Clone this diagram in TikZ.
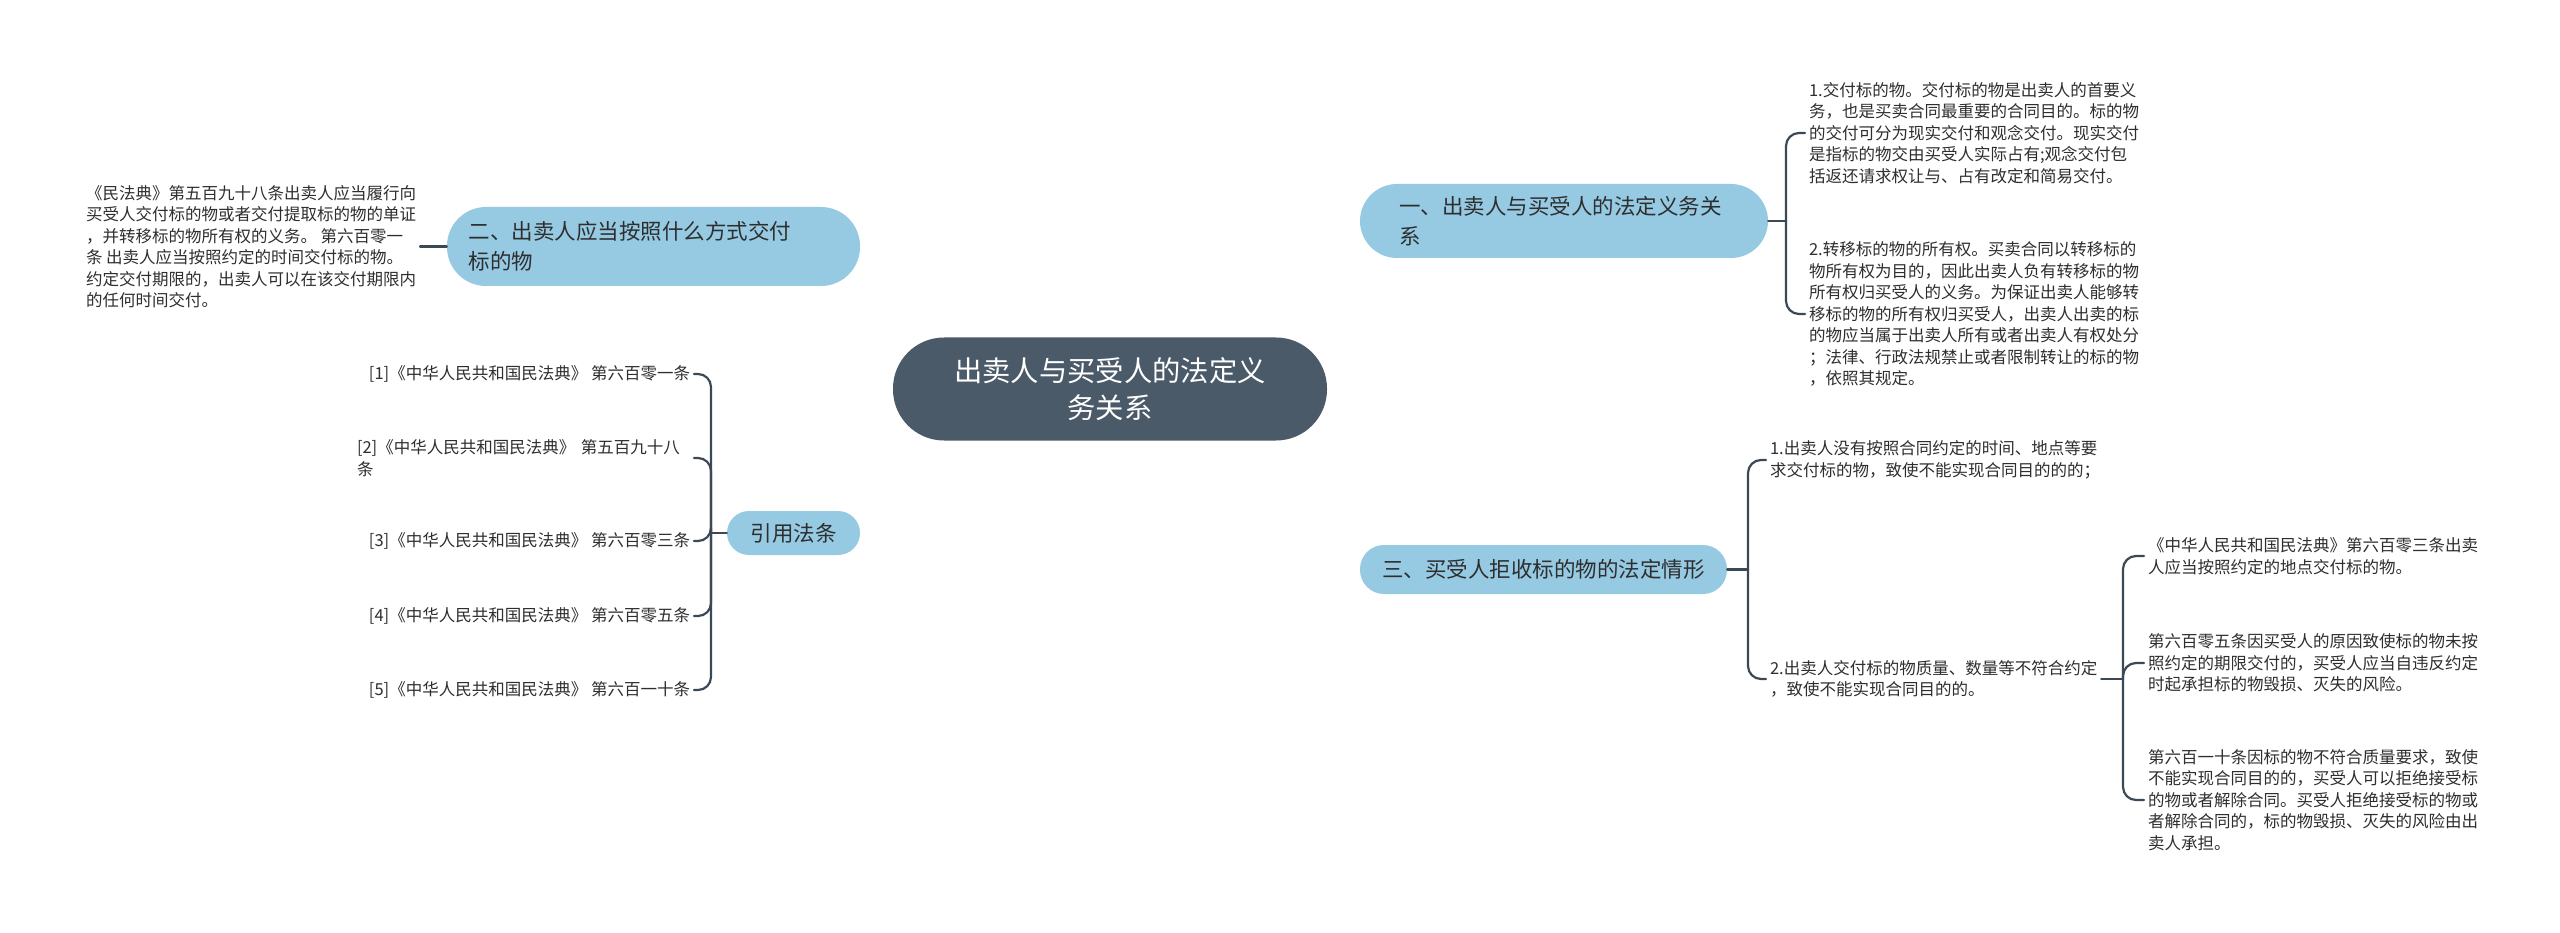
\documentclass[tikz,border=0pt]{standalone}
\usepackage{fontspec}
\setmainfont{Noto Sans CJK SC}
\usetikzlibrary{backgrounds}
\definecolor{centralfill}{HTML}{4A5A69}
\definecolor{topicfill}{HTML}{96CAE3}
\definecolor{linecol}{HTML}{3B4856}
\definecolor{textcol}{HTML}{2E2E2E}
\tikzset{
  central/.style={fill=centralfill, text=white, rounded corners=51pt, minimum width=434pt, minimum height=103pt, align=center, inner sep=0pt, font=\fontsize{28.3}{37}\selectfont},
  topic/.style={fill=topicfill, text=textcol, rounded corners=24pt, align=left, inner sep=0pt, font=\fontsize{21.5}{30}\selectfont},
  leaf/.style={text=textcol, align=left, inner sep=0pt, outer sep=4pt, font=\fontsize{16.5}{21.5}\selectfont},
  conn/.style={draw=linecol, line width=2.2pt, line cap=round},
  brace/.style={conn, rounded corners=13pt}
}
\begin{document}
\begin{tikzpicture}[x=1pt,y=-1pt]
\fill[white] (0,0) rectangle (2560,933);
\useasboundingbox (0,0) rectangle (2560,933);

% central
\node[central] (c) at (1110,389) {出卖人与买受人的法定义\\务关系};

% level 1
\node[topic, minimum width=408pt, minimum height=74pt, rounded corners=37pt, text width=330pt] (n1) at (1564,221) {一、出卖人与买受人的法定义务关\\系};
\node[topic, minimum width=413pt, minimum height=79pt, rounded corners=39pt, text width=370pt] (n2) at (653.5,246.5) {二、出卖人应当按照什么方式交付\\标的物};
\node[topic, minimum width=367pt, minimum height=49pt, rounded corners=24pt] (n3) at (1543.5,569.5) {三、买受人拒收标的物的法定情形};
\node[topic, minimum width=133pt, minimum height=44pt, rounded corners=22pt] (n4) at (793.5,533) {引用法条};

% curves from central
\begin{scope}[on background layer]
\draw[conn] (1120,389) .. controls (1125,250) and (1200,221) .. (n1.west);
\draw[conn] (1100,389) .. controls (1095,270) and (1010,246.5) .. (n2.east);
\draw[conn] (1120,389) .. controls (1125,540) and (1200,569.5) .. (n3.west);
\draw[conn] (1100,389) .. controls (1095,510) and (1010,533) .. (n4.east);
\end{scope}

% children of n1
\node[leaf, anchor=west] (n1a) at (1805,133) {1.交付标的物。交付标的物是出卖人的首要义\\务，也是买卖合同最重要的合同目的。标的物\\的交付可分为现实交付和观念交付。现实交付\\是指标的物交由买受人实际占有;观念交付包\\括返还请求权让与、占有改定和简易交付。};
\node[leaf, anchor=west] (n1b) at (1805,314) {2.转移标的物的所有权。买卖合同以转移标的\\物所有权为目的，因此出卖人负有转移标的物\\所有权归买受人的义务。为保证出卖人能够转\\移标的物的所有权归买受人，出卖人出卖的标\\的物应当属于出卖人所有或者出卖人有权处分\\；法律、行政法规禁止或者限制转让的标的物\\，依照其规定。};
\coordinate (j1) at (1786,221);
\draw[conn] (n1.east) -- (j1);
\draw[brace] (j1) |- (n1a.west);
\draw[brace] (j1) |- (n1b.west);

% child of n2
\node[leaf, anchor=east] (n2a) at (420,246.5) {《民法典》第五百九十八条出卖人应当履行向\\买受人交付标的物或者交付提取标的物的单证\\，并转移标的物所有权的义务。 第六百零一\\条 出卖人应当按照约定的时间交付标的物。\\约定交付期限的，出卖人可以在该交付期限内\\的任何时间交付。};
\draw[conn] (n2.west) -- (n2a.east);

% children of n3
\node[leaf, anchor=west] (n3a) at (1766,460) {1.出卖人没有按照合同约定的时间、地点等要\\求交付标的物，致使不能实现合同目的的的；};
\node[leaf, anchor=west] (n3b) at (1766,679) {2.出卖人交付标的物质量、数量等不符合约定\\，致使不能实现合同目的的。};
\coordinate (j3) at (1748,569.5);
\draw[conn] (n3.east) -- (j3);
\draw[brace] (j3) |- (n3a.west);
\draw[brace] (j3) |- (n3b.west);

% grandchildren of n3b
\node[leaf, anchor=west] (g1) at (2144,556) {《中华人民共和国民法典》第六百零三条出卖\\人应当按照约定的地点交付标的物。};
\node[leaf, anchor=west] (g2) at (2144,663) {第六百零五条因买受人的原因致使标的物未按\\照约定的期限交付的，买受人应当自违反约定\\时起承担标的物毁损、灭失的风险。};
\node[leaf, anchor=west] (g3) at (2144,800) {第六百一十条因标的物不符合质量要求，致使\\不能实现合同目的的，买受人可以拒绝接受标\\的物或者解除合同。买受人拒绝接受标的物或\\者解除合同的，标的物毁损、灭失的风险由出\\卖人承担。};
\coordinate (j3b) at (2123,679);
\draw[conn] (n3b.east) -- (j3b);
\draw[brace] (j3b) |- (g1.west);
\draw[brace] (j3b) |- (g2.west);
\draw[brace] (j3b) |- (g3.west);

% children of n4
\node[leaf, anchor=east] (r1) at (694,374) {[1]《中华人民共和国民法典》 第六百零一条};
\node[leaf, anchor=east, text width=333pt] (r2) at (694,458) {[2]《中华人民共和国民法典》 第五百九十八\\条};
\node[leaf, anchor=east] (r3) at (694,541) {[3]《中华人民共和国民法典》 第六百零三条};
\node[leaf, anchor=east] (r4) at (694,616) {[4]《中华人民共和国民法典》 第六百零五条};
\node[leaf, anchor=east] (r5) at (694,690) {[5]《中华人民共和国民法典》 第六百一十条};
\coordinate (j4) at (711,533);
\draw[conn] (n4.west) -- (j4);
\draw[brace] (j4) |- (r1.east);
\draw[brace] (j4) |- (r2.east);
\draw[brace] (j4) |- (r3.east);
\draw[brace] (j4) |- (r4.east);
\draw[brace] (j4) |- (r5.east);
\end{tikzpicture}
\end{document}
